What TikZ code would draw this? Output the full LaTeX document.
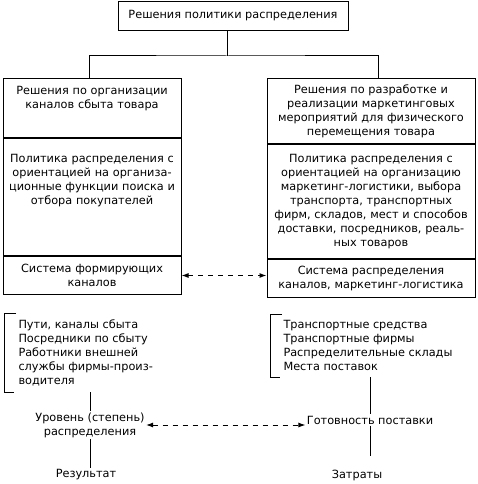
\documentclass[tikz,border=0pt]{standalone}
\usepackage{fontspec}
\setmainfont{DejaVu Sans}
\usetikzlibrary{arrows.meta}
\begin{document}
\begin{tikzpicture}[x=1pt,y=-1pt,>={Latex[length=7pt,width=5pt]},line width=1pt,
    font=\fontsize{11.3}{14}\selectfont,
    sect/.style={draw,align=center,inner xsep=0pt,inner ysep=3pt,anchor=north},
    lsect/.style={sect,text width=178pt},
    rsect/.style={sect,text width=208pt},
    lst/.style={align=left,anchor=north west,inner ysep=6pt},
    txt/.style={align=center,inner sep=1pt},
    dashlink/.style={<->,dashed,dash pattern=on 5pt off 5pt}]
    \useasboundingbox (0,0) rectangle (478,484);
    \node[draw,minimum width=230pt,minimum height=29pt,anchor=north] (top) at (233,1) {Решения политики распределения};
    % left column
    \node[lsect,text height=13pt,text depth=40pt] (l1) at (92,78) {Решения по организации\\каналов сбыта товара};
    \node[lsect,text height=21pt,text depth=90pt] (l2) at (l1.south) {Политика распределения с\\ориентацией на организа-\\ционные функции поиска и\\отбора покупателей};
    \node[lsect,minimum height=38pt] (l3) at (l2.south) {Система формирующих\\каналов};
    % right column
    \node[rsect,minimum height=65pt] (r1) at (371,78) {Решения по разработке и\\реализации маркетинговых\\мероприятий для физического\\перемещения товара};
    \node[rsect,minimum height=114pt] (r2) at (r1.south) {Политика распределения с\\ориентацией на организацию\\маркетинг-логистики, выбора\\транспорта, транспортных\\фирм, складов, мест и способов\\доставки, посредников, реаль-\\ных товаров};
    \node[rsect,minimum height=38pt] (r3) at (r2.south) {Система распределения\\каналов, маркетинг-логистика};
    \draw ([xshift=-6pt]top.south) -- ++(0,25) coordinate (fork);
    \draw ([xshift=-3pt]l1.north) |- (fork) -| ([xshift=7pt]r1.north);
    \draw[dashlink] (l3.east) -- (l3.east -| r3.west);
    % lower part
    \node[lst,inner xsep=14pt] (ways) at (4,313) {Пути, каналы сбыта\\Посредники по сбыту\\Работники внешней\\службы фирмы-произ-\\водителя};
    \draw ([xshift=12pt]ways.north west) -| (ways.south west) -- ++(10,0);
    \node[lst,inner xsep=13pt] (means) at (270,314) {Транспортные средства\\Транспортные фирмы\\Распределительные склады\\Места поставок};
    \draw ([xshift=12pt]means.north west) -| (means.south west) -- ++(10,0);
    \node[txt] (level) at (90,425) {Уровень (степень)\\распределения};
    \node[txt] (ready) at (370,420) {Готовность поставки};
    \node[txt] (result) at (86,475) {Результат};
    \node[txt] (costs) at (357,475) {Затраты};
    \draw (level.north |- ways.south) -- (level.north);
    \draw (level.south) -- (level.south |- result.north);
    \draw (ready.north |- means.south) -- (ready.north);
    \draw[shorten >=12pt] (ready.south) -- (ready.south |- costs.north);
    \draw[dashlink] (level.east) -- (level.east -| ready.west);
\end{tikzpicture}
\end{document}
